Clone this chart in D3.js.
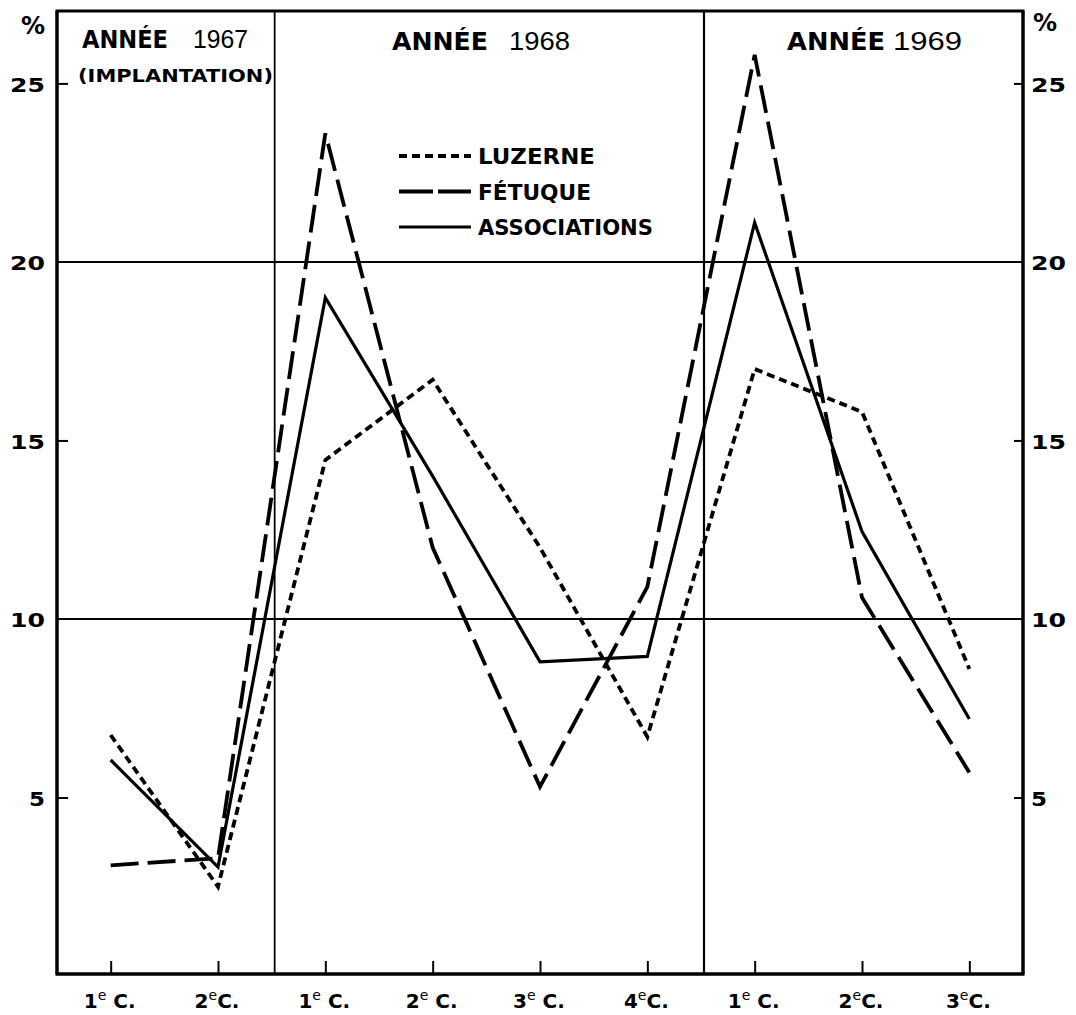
<!DOCTYPE html>
<html>
<head>
<meta charset="utf-8">
<script src="https://cdn.jsdelivr.net/npm/d3@7"></script>
<style>
  body { margin: 0; background: #fff; }
  svg { display: block; }
  .bold { font-family: "DejaVu Sans", sans-serif; font-weight: bold; fill: #000; }
  .thin { font-family: "Liberation Sans", Arial, sans-serif; font-weight: normal; fill: #000; }
</style>
</head>
<body>
<div id="chart"></div>
<script>
// cuts (coupes) in each year
var categories = ["1967-1", "1967-2", "1968-1", "1968-2", "1968-3", "1968-4", "1969-1", "1969-2", "1969-3"];
var cutNumbers = ["1", "2", "1", "2", "3", "4", "1", "2", "3"];
var cutSpace   = [true, false, true, true, true, false, true, false, false];

// % values
var luzerne      = [6.75, 2.5, 14.45, 16.7, 12.0, 6.7, 17.0, 15.8, 8.6];
var fetuque      = [3.1, 3.3, 23.6, 12.0, 5.3, 10.9, 25.8, 10.6, 5.7];
var associations = [6.05, 3.05, 19.0, 14.0, 8.8, 8.95, 21.1, 12.45, 7.2];

var yTicks = [5, 10, 15, 20, 25];
var gridValues = [10, 20];

var width = 1076, height = 1015;
var mLeft = 57, mRight = 1023, mTop = 11, mBottom = 974;

var svg = d3.select("#chart").append("svg")
  .attr("width", width)
  .attr("height", height);

var x = d3.scalePoint()
  .domain(categories)
  .range([mLeft, mRight])
  .padding(0.5);

var y = d3.scaleLinear()
  .domain([0, 27])
  .range([976, 12]);

// grid lines at 10 and 20
svg.selectAll(".grid")
  .data(gridValues)
  .enter().append("line")
  .attr("x1", mLeft).attr("x2", mRight)
  .attr("y1", function(d){ return y(d); })
  .attr("y2", function(d){ return y(d); })
  .style("stroke", "#000")
  .style("stroke-width", 2);

// year separators
var step = x.step();
[categories[1], categories[5]].forEach(function(c, i){
  var sx = x(c) + step / 2 + 3;
  svg.append("line")
    .attr("x1", sx).attr("x2", sx)
    .attr("y1", mTop).attr("y2", mBottom)
    .style("stroke", "#000")
    .style("stroke-width", i == 0 ? 1.8 : 2.2);
});

// frame top
svg.append("line")
  .attr("x1", mLeft - 1.5).attr("x2", mRight + 1.5)
  .attr("y1", mTop).attr("y2", mTop)
  .style("stroke", "#000")
  .style("stroke-width", 3.2);

// left axis
var gl = svg.append("g")
  .attr("transform", "translate(" + mLeft + ",0)")
  .call(d3.axisLeft(y).tickValues(yTicks).tickSize(-11).tickSizeOuter(0).tickPadding(12));
// right axis
var gr = svg.append("g")
  .attr("transform", "translate(" + mRight + ",0)")
  .call(d3.axisRight(y).tickValues(yTicks).tickSize(-9).tickSizeOuter(0).tickPadding(8));

[gl, gr].forEach(function(g){
  g.select(".domain").style("stroke", "#000").style("stroke-width", 3.5)
    .attr("d", "M0," + mTop + "V" + mBottom);
  g.selectAll(".tick line").style("stroke", "#000").style("stroke-width", 2)
    .style("display", function(d){ return gridValues.indexOf(d) >= 0 ? "none" : null; });
  g.selectAll(".tick text")
    .attr("class", "bold")
    .attr("dy", "0.38em")
    .style("font-size", "20px")
    .attr("textLength", 35)
    .attr("lengthAdjust", "spacingAndGlyphs")
    .text(function(d){ return d; });
  g.selectAll(".tick").filter(function(d){ return d == 5; }).select("text")
    .attr("textLength", 16);
});

// bottom axis
var gb = svg.append("g")
  .attr("transform", "translate(0," + mBottom + ")")
  .call(d3.axisBottom(x).tickSize(-13).tickSizeOuter(0).tickFormat(""));
gb.select(".domain").style("stroke", "#000").style("stroke-width", 3.5)
  .attr("d", "M" + (mLeft - 1.5) + ",0H" + (mRight + 1.5));
gb.selectAll(".tick line").style("stroke", "#000").style("stroke-width", 2);

categories.forEach(function(c, i){
  var t = svg.append("text")
    .attr("class", "bold")
    .attr("x", x(c) - 1)
    .attr("y", 1008)
    .attr("text-anchor", "middle")
    .style("font-size", "20px");
  t.append("tspan").text(cutNumbers[i]);
  t.append("tspan").attr("dy", -8).style("font-size", "14px").style("font-weight", "normal").text("e");
  t.append("tspan").attr("dy", 8).text((cutSpace[i] ? " " : "") + "C.");
});

// % signs
svg.append("text").attr("class", "bold").attr("x", 21).attr("y", 34)
  .style("font-size", "24px").text("%");
svg.append("text").attr("class", "bold").attr("x", 1033).attr("y", 31)
  .style("font-size", "24px").text("%");

// year titles
var years = [
  {a: 82, aw: 86, n: 193, nw: 55, label: "1967", base: 48},
  {a: 392, aw: 96, n: 509, nw: 61, label: "1968", base: 50},
  {a: 787, aw: 98, n: 893, nw: 69, label: "1969", base: 50}
];
years.forEach(function(yr){
  svg.append("text").attr("class", "bold")
    .attr("x", yr.a).attr("y", yr.base)
    .style("font-size", "24px")
    .attr("textLength", yr.aw).attr("lengthAdjust", "spacingAndGlyphs")
    .text("ANNÉE");
  svg.append("text").attr("class", "thin")
    .attr("x", yr.n).attr("y", yr.base)
    .style("font-size", "26px")
    .attr("textLength", yr.nw).attr("lengthAdjust", "spacingAndGlyphs")
    .text(yr.label);
});
svg.append("text").attr("class", "bold")
  .attr("x", 78).attr("y", 82)
  .style("font-size", "18px").style("font-weight", "600")
  .attr("textLength", 195).attr("lengthAdjust", "spacingAndGlyphs")
  .text("(IMPLANTATION)");

// series
var series = [
  {name: "LUZERNE", values: luzerne, dash: "8,5", width: 3.8, textW: 117},
  {name: "FÉTUQUE", values: fetuque, dash: "28,9", width: 3.8, textW: 113},
  {name: "ASSOCIATIONS", values: associations, dash: null, width: 3.2, textW: 175}
];

var line = d3.line()
  .x(function(d, i){ return x(categories[i]); })
  .y(function(d){ return y(d); });

series.forEach(function(s){
  svg.append("path")
    .datum(s.values)
    .attr("d", line)
    .attr("fill", "none")
    .style("stroke", "#000")
    .style("stroke-width", s.width)
    .style("stroke-linejoin", "miter")
    .style("stroke-dasharray", s.dash);
});

// legend
series.forEach(function(s, i){
  var ly = 156 + i * 35.5;
  svg.append("line")
    .attr("x1", 399).attr("x2", 471)
    .attr("y1", ly).attr("y2", ly)
    .style("stroke", "#000")
    .style("stroke-width", s.width)
    .style("stroke-dasharray", s.dash == "28,9" ? "34,5" : s.dash);
  svg.append("text").attr("class", "bold")
    .attr("x", 478).attr("y", ly + 8)
    .style("font-size", "21px")
    .attr("textLength", s.textW).attr("lengthAdjust", "spacingAndGlyphs")
    .text(s.name);
});
</script>
</body>
</html>
